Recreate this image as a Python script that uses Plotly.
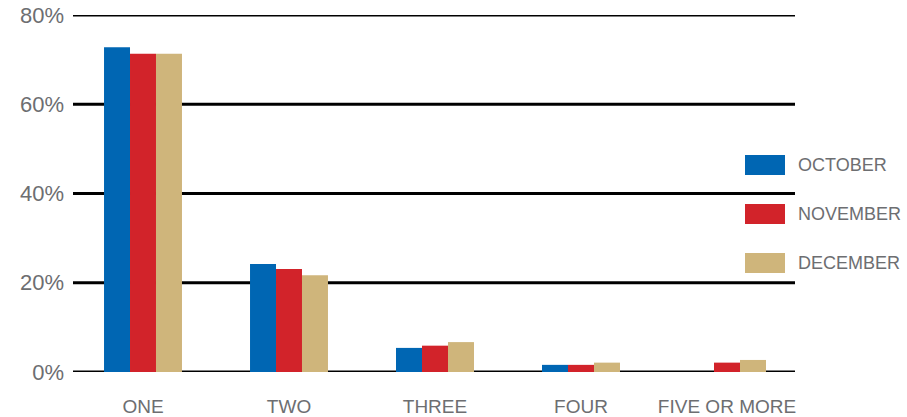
import plotly.graph_objects as go

# Number of categories and monthly shares (percent)
categories = ["ONE", "TWO", "THREE", "FOUR", "FIVE OR MORE"]
october = [72.8, 24.2, 5.4, 1.6, 0.0]
november = [71.3, 23.1, 5.9, 1.6, 2.1]
december = [71.3, 21.7, 6.7, 2.1, 2.7]
y_ticks = [0, 20, 40, 60, 80]
y_tick_text = ["0%", "20%", "40%", "60%", "80%"]

series = [
    ("OCTOBER", october, "#0066b3"),
    ("NOVEMBER", november, "#d2232a"),
    ("DECEMBER", december, "#cfb57b"),
]

W, H = 907, 417
ML, MR, MT, MB = 70, 107, 15, 45
GRAY = "#6d6e71"
FONT = "Liberation Sans, Arial, sans-serif"

fig = go.Figure()
for name, vals, color in series:
    fig.add_trace(go.Bar(
        x=categories, y=vals, name=name,
        marker=dict(color=color, line=dict(width=0)),
        showlegend=False,
    ))

# Horizontal rules at each tick value
plot_w = W - ML - MR
plot_h = H - MT - MB
rule_start = (73 - ML) / plot_w
rule_end = (795 - ML) / plot_w
for v in y_ticks:
    fig.add_shape(type="line", xref="paper", yref="y",
                  x0=rule_start, x1=rule_end, y0=v, y1=v,
                  line=dict(color="black", width=3), layer="below")

# Legend with wide swatches on the right
leg_x0 = 745
leg_y = [165, 214, 263]
for (name, _, color), yc in zip(series, leg_y):
    fig.add_shape(type="rect", xref="paper", yref="paper",
                  x0=(leg_x0 - ML) / plot_w, x1=(leg_x0 + 40 - ML) / plot_w,
                  y0=(H - MB - (yc + 10)) / plot_h,
                  y1=(H - MB - (yc - 10)) / plot_h,
                  fillcolor=color, line=dict(width=0))
    fig.add_annotation(xref="paper", yref="paper",
                       x=(796 - ML) / plot_w,
                       y=(H - MB - yc) / plot_h,
                       text=name, showarrow=False,
                       xanchor="left", yanchor="middle",
                       font=dict(family=FONT, size=18, color=GRAY))

fig.update_layout(
    width=W, height=H,
    margin=dict(l=ML, r=MR, t=MT, b=MB, pad=0, autoexpand=False),
    paper_bgcolor="white", plot_bgcolor="white",
    barmode="group", bargap=0.466, bargroupgap=0,
    font=dict(family=FONT, color=GRAY),
    xaxis=dict(showgrid=False, showline=False, zeroline=False,
               ticks="", tickfont=dict(size=19, color=GRAY),
               ticklabelstandoff=21, automargin=False),
    yaxis=dict(range=[0, 80], tickvals=y_ticks, ticktext=y_tick_text,
               showgrid=False, showline=False, zeroline=False,
               ticks="", tickfont=dict(size=22, color=GRAY),
               ticklabelstandoff=5, automargin=False),
)

fig.write_html("out.html")
